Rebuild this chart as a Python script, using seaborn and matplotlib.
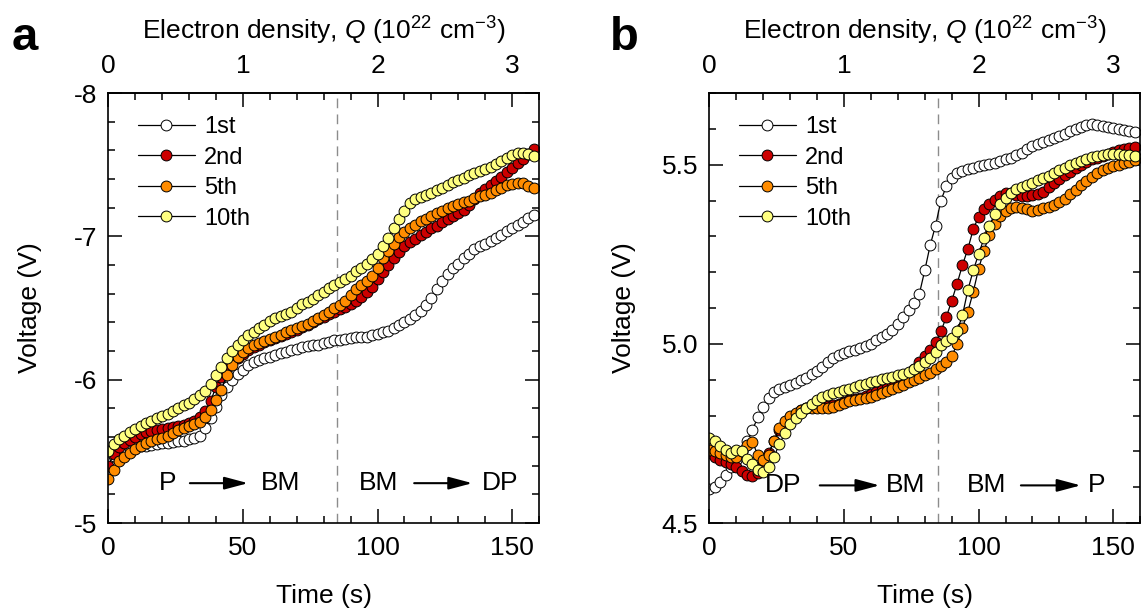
import numpy as np
import matplotlib
matplotlib.use("Agg")
import matplotlib.pyplot as plt
import seaborn as sns
from matplotlib.ticker import MultipleLocator, FixedLocator, FormatStrFormatter

# ---------------- data ----------------
time_s = np.arange(0, 160, 2)          # sampling times (s)
cycle_labels = ["1st", "2nd", "5th", "10th"]
cycle_colors = ["#FFFFFF", "#CC0000", "#FF8C00", "#FFFF80"]

# panel a : P -> BM -> DP
a_1st = [-5.45, -5.47, -5.49, -5.51, -5.52, -5.53, -5.535, -5.54, -5.545, -5.55,
         -5.555, -5.56, -5.565, -5.57, -5.575, -5.585, -5.595, -5.61, -5.66, -5.73,
         -5.81, -5.89, -5.95, -6.00, -6.04, -6.07, -6.10, -6.12, -6.14, -6.15,
         -6.16, -6.175, -6.185, -6.195, -6.205, -6.215, -6.225, -6.235, -6.24, -6.245,
         -6.255, -6.265, -6.275, -6.28, -6.285, -6.29, -6.295, -6.30, -6.30, -6.31,
         -6.32, -6.33, -6.34, -6.36, -6.38, -6.40, -6.42, -6.45, -6.48, -6.52,
         -6.57, -6.63, -6.69, -6.74, -6.78, -6.81, -6.85, -6.88, -6.91, -6.93,
         -6.95, -6.97, -6.99, -7.01, -7.035, -7.06, -7.08, -7.10, -7.125, -7.15]
a_2nd = [-5.40, -5.48, -5.53, -5.56, -5.58, -5.60, -5.62, -5.635, -5.645, -5.65,
         -5.655, -5.66, -5.67, -5.675, -5.685, -5.70, -5.71, -5.74, -5.78, -5.85,
         -5.95, -6.02, -6.08, -6.12, -6.15, -6.18, -6.21, -6.23, -6.245, -6.26,
         -6.275, -6.29, -6.305, -6.32, -6.335, -6.35, -6.365, -6.38, -6.40, -6.42,
         -6.44, -6.46, -6.475, -6.49, -6.51, -6.53, -6.55, -6.575, -6.61, -6.65,
         -6.70, -6.75, -6.80, -6.85, -6.89, -6.93, -6.96, -6.985, -7.01, -7.03,
         -7.055, -7.075, -7.10, -7.12, -7.14, -7.165, -7.185, -7.22, -7.26, -7.30,
         -7.33, -7.355, -7.385, -7.415, -7.45, -7.48, -7.51, -7.54, -7.575, -7.61]
a_5th = [-5.31, -5.37, -5.43, -5.46, -5.49, -5.515, -5.535, -5.555, -5.57, -5.585,
         -5.595, -5.61, -5.63, -5.65, -5.665, -5.68, -5.69, -5.705, -5.74, -5.79,
         -5.86, -5.93, -6.03, -6.10, -6.155, -6.19, -6.22, -6.24, -6.255, -6.27,
         -6.285, -6.30, -6.315, -6.33, -6.345, -6.36, -6.375, -6.39, -6.41, -6.43,
         -6.45, -6.475, -6.50, -6.52, -6.55, -6.59, -6.63, -6.66, -6.69, -6.72,
         -6.78, -6.85, -6.90, -6.95, -6.995, -7.03, -7.06, -7.08, -7.105, -7.12,
         -7.14, -7.16, -7.18, -7.195, -7.21, -7.225, -7.24, -7.25, -7.265, -7.28,
         -7.29, -7.305, -7.32, -7.34, -7.355, -7.365, -7.375, -7.37, -7.35, -7.34]
a_10th = [-5.50, -5.55, -5.585, -5.61, -5.635, -5.655, -5.675, -5.695, -5.71, -5.73,
          -5.745, -5.76, -5.78, -5.80, -5.82, -5.84, -5.865, -5.89, -5.92, -5.97,
          -6.03, -6.09, -6.15, -6.20, -6.245, -6.28, -6.31, -6.335, -6.36, -6.385,
          -6.41, -6.43, -6.445, -6.46, -6.475, -6.50, -6.525, -6.545, -6.565, -6.59,
          -6.615, -6.64, -6.66, -6.68, -6.70, -6.725, -6.755, -6.78, -6.81, -6.84,
          -6.875, -6.93, -6.99, -7.06, -7.12, -7.18, -7.23, -7.26, -7.275, -7.29,
          -7.305, -7.32, -7.34, -7.36, -7.38, -7.395, -7.41, -7.425, -7.44, -7.455,
          -7.47, -7.485, -7.505, -7.525, -7.55, -7.57, -7.58, -7.585, -7.575, -7.56]

# panel b : DP -> BM -> P
b_1st = [4.595, 4.60, 4.615, 4.635, 4.655, 4.675, 4.70, 4.73, 4.76, 4.795,
         4.825, 4.85, 4.865, 4.873, 4.879, 4.885, 4.892, 4.898, 4.905, 4.915,
         4.925, 4.935, 4.948, 4.96, 4.968, 4.975, 4.98, 4.983, 4.988, 4.993,
         5.00, 5.01, 5.018, 5.028, 5.04, 5.056, 5.075, 5.095, 5.115, 5.14,
         5.205, 5.275, 5.33, 5.40, 5.44, 5.462, 5.476, 5.483, 5.488, 5.492,
         5.497, 5.50, 5.503, 5.506, 5.51, 5.515, 5.52, 5.527, 5.534, 5.543,
         5.552, 5.558, 5.563, 5.569, 5.574, 5.58, 5.587, 5.594, 5.599, 5.605,
         5.612, 5.613, 5.61, 5.607, 5.605, 5.602, 5.599, 5.597, 5.594, 5.591]
b_2nd = [4.695, 4.685, 4.675, 4.67, 4.665, 4.655, 4.645, 4.635, 4.63, 4.64,
         4.665, 4.695, 4.73, 4.76, 4.78, 4.795, 4.805, 4.815, 4.822, 4.828,
         4.83, 4.828, 4.826, 4.828, 4.832, 4.838, 4.842, 4.846, 4.85, 4.855,
         4.86, 4.865, 4.87, 4.876, 4.882, 4.89, 4.90, 4.915, 4.93, 4.948,
         4.965, 4.982, 5.005, 5.035, 5.075, 5.12, 5.168, 5.22, 5.265, 5.32,
         5.355, 5.375, 5.39, 5.402, 5.412, 5.42, 5.42, 5.416, 5.413, 5.413,
         5.415, 5.418, 5.425, 5.438, 5.45, 5.46, 5.47, 5.48, 5.49, 5.498,
         5.507, 5.515, 5.52, 5.525, 5.53, 5.536, 5.54, 5.544, 5.547, 5.55]
b_5th = [4.705, 4.70, 4.695, 4.69, 4.683, 4.685, 4.70, 4.718, 4.726, 4.69,
         4.675, 4.69, 4.73, 4.765, 4.785, 4.80, 4.808, 4.815, 4.82, 4.822,
         4.822, 4.82, 4.82, 4.825, 4.83, 4.836, 4.84, 4.843, 4.846, 4.849,
         4.852, 4.857, 4.863, 4.868, 4.874, 4.879, 4.886, 4.893, 4.899, 4.905,
         4.912, 4.92, 4.93, 4.937, 4.95, 4.965, 5.0, 5.045, 5.09, 5.145,
         5.21, 5.26, 5.305, 5.335, 5.356, 5.372, 5.38, 5.382, 5.38, 5.375,
         5.371, 5.373, 5.378, 5.382, 5.388, 5.395, 5.405, 5.418, 5.43, 5.442,
         5.455, 5.467, 5.476, 5.484, 5.49, 5.496, 5.50, 5.504, 5.508, 5.512]
b_10th = [4.737, 4.728, 4.714, 4.703, 4.695, 4.705, 4.70, 4.68, 4.665, 4.648,
          4.642, 4.655, 4.685, 4.72, 4.75, 4.775, 4.793, 4.808, 4.82, 4.832,
          4.843, 4.852, 4.858, 4.862, 4.866, 4.87, 4.874, 4.879, 4.884, 4.889,
          4.893, 4.897, 4.901, 4.904, 4.908, 4.912, 4.916, 4.922, 4.929, 4.938,
          4.948, 4.96, 4.978, 4.998, 5.008, 5.015, 5.035, 5.08, 5.15, 5.205,
          5.25, 5.295, 5.33, 5.362, 5.39, 5.408, 5.422, 5.432, 5.438, 5.444,
          5.45, 5.456, 5.462, 5.469, 5.476, 5.484, 5.491, 5.498, 5.505, 5.511,
          5.517, 5.521, 5.524, 5.527, 5.529, 5.529, 5.529, 5.528, 5.526, 5.525]

boundary_time = 85
q_per_second = 1 / 50.0   # electron density Q (1e22 cm^-3) per second

# ---------------- style ----------------
sns.set_style("ticks")
plt.rcParams["font.family"] = ["Liberation Sans", "DejaVu Sans"]
plt.rcParams["axes.unicode_minus"] = False
plt.rcParams["mathtext.fontset"] = "custom"
plt.rcParams["mathtext.rm"] = "Liberation Sans"
plt.rcParams["mathtext.it"] = "Liberation Sans:italic"
for key in ["text.color", "axes.labelcolor", "xtick.color", "ytick.color",
            "axes.edgecolor"]:
    plt.rcParams[key] = "black"
FS = 19

fig = plt.figure(figsize=(11.41, 6.12), dpi=100)
ax1 = fig.add_axes([0.0949, 0.1454, 0.3776, 0.7026])
ax2 = fig.add_axes([0.6217, 0.1454, 0.3776, 0.7026])


def draw_panel(ax, series):
    ax.axvline(boundary_time, color="#8c8c8c", lw=1.0, dashes=(7, 4.5), zorder=1)
    for name, vals, col in zip(cycle_labels, series, cycle_colors):
        sns.lineplot(x=time_s, y=vals, ax=ax, color="black", lw=0.9,
                     marker="o", markersize=7.8, markerfacecolor=col,
                     markeredgecolor="black", markeredgewidth=0.7,
                     label=name, estimator=None, sort=False, zorder=2)
    ax.set_xlim(0, 160)
    ax.xaxis.set_major_locator(MultipleLocator(50))
    ax.xaxis.set_minor_locator(MultipleLocator(10))
    ax.tick_params(which="major", direction="in", length=10, width=1.1,
                   top=False, right=True, labelsize=FS, colors="black")
    ax.tick_params(which="minor", direction="in", length=5, width=1.1,
                   top=False, right=True, colors="black")
    ax.tick_params(axis="x", which="major", pad=9)
    ax.tick_params(axis="y", which="major", pad=8)
    for sp in ax.spines.values():
        sp.set_linewidth(1.2)
        sp.set_color("black")
    ax.set_xlabel("Time (s)", fontsize=FS, color="black")
    ax.xaxis.set_label_coords(0.5, -0.142)
    ax.set_ylabel("Voltage (V)", fontsize=FS, color="black")

    sec = ax.secondary_xaxis("top", functions=(lambda t: t * q_per_second,
                                               lambda q: q / q_per_second))
    sec.set_xticks([0, 1, 2, 3])
    sec.xaxis.set_minor_locator(MultipleLocator(0.2))
    sec.tick_params(which="major", direction="in", length=10, width=1.1,
                    pad=11, labelsize=FS, colors="black")
    sec.tick_params(which="minor", direction="in", length=5, width=1.1,
                    colors="black")
    sec.spines["top"].set_linewidth(1.2)
    sec.set_xlabel("Electron density, $Q$ (10$^{22}$ cm$^{-3}$)", fontsize=FS,
                   labelpad=10, color="black")

    ax.legend(loc="upper left", bbox_to_anchor=(0.069, 0.946), frameon=False,
              fontsize=17, handlelength=2.4, handletextpad=0.4,
              labelspacing=0.36, borderpad=0, borderaxespad=0)


def phase_label(ax, left_txt, left_t, a0, a1, right_txt, right_t, v):
    ax.text(left_t, v, left_txt, ha="center", va="center", fontsize=FS)
    ax.text(right_t, v, right_txt, ha="center", va="center", fontsize=FS)
    ax.annotate("", xy=(a1, v), xytext=(a0, v),
                arrowprops=dict(arrowstyle="-|>,head_length=0.6,head_width=0.16",
                                mutation_scale=24, color="black", lw=1.5,
                                shrinkA=0, shrinkB=0))


# panel a
draw_panel(ax1, [a_1st, a_2nd, a_5th, a_10th])
ax1.set_ylim(-5, -8)
ax1.yaxis.set_major_locator(MultipleLocator(1))
ax1.yaxis.set_minor_locator(MultipleLocator(0.2))
ax1.yaxis.set_label_coords(-0.154, 0.5)
phase_label(ax1, "P", 22.2, 30.3, 51.9, "BM", 63.9, -5.278)
phase_label(ax1, "BM", 100.4, 113.6, 135.2, "DP", 145.4, -5.278)

# panel b
draw_panel(ax2, [b_1st, b_2nd, b_5th, b_10th])
ax2.set_ylim(4.5, 5.7)
ax2.yaxis.set_major_locator(FixedLocator([4.5, 5.0, 5.5]))
ax2.yaxis.set_minor_locator(MultipleLocator(0.1))
ax2.yaxis.set_major_formatter(FormatStrFormatter("%.1f"))
ax2.yaxis.set_label_coords(-0.170, 0.5)
phase_label(ax2, "DP", 27.4, 41.0, 63.2, "BM", 72.8, 4.605)
phase_label(ax2, "BM", 103.0, 115.7, 137.9, "P", 144.0, 4.605)

# panel letters
fig.text(0.010, 0.918, "a", fontsize=34, fontweight="bold", va="baseline")
fig.text(0.535, 0.918, "b", fontsize=34, fontweight="bold", va="baseline")

fig.savefig("out.png", dpi=100)
